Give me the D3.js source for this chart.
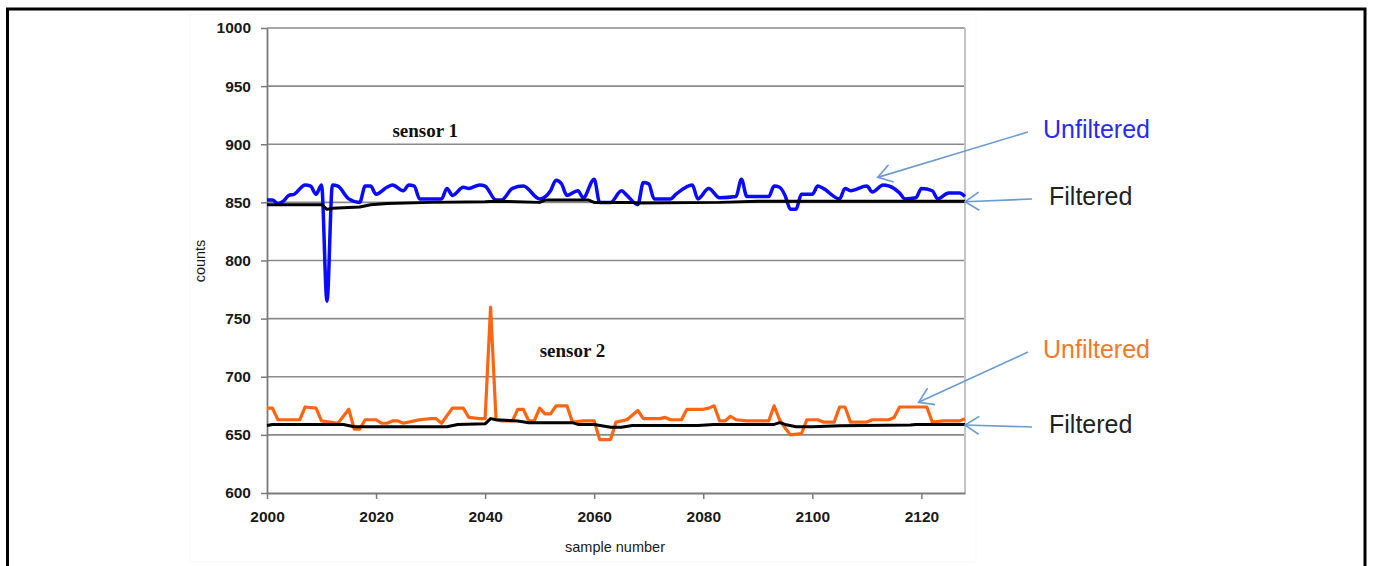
<!DOCTYPE html>
<html><head><meta charset="utf-8">
<script src="https://cdn.jsdelivr.net/npm/d3@7"></script>
<style>body{margin:0;background:#fff} svg{display:block}</style>
</head><body>
<svg id="c" width="1373" height="566"></svg>
<script>
// ---- data ----
const yTicks = [600, 650, 700, 750, 800, 850, 900, 950, 1000];
const xTicks = [2000, 2020, 2040, 2060, 2080, 2100, 2120];

const s1UnfSamples = [2000,2001,2002,2003,2004,2005,2007,2008,2009,2010,2011,2012,2013,2015,2017,2018,2019,2020,2022,2023,2025,2026,2027,2028,2032,2033,2034,2036,2037,2039,2040,2042,2043,2045,2047,2050,2052,2053,2054,2055,2057,2058,2060,2061,2063,2065,2066,2068,2069,2070,2071,2074,2075,2078,2079,2081,2083,2086,2087,2088,2092,2093,2094,2095,2096,2097,2098,2100,2101,2102,2105,2106,2107,2110,2111,2113,2115,2116,2117,2119,2120,2122,2123,2125,2127,2128];
const s1Unfiltered = [852,852,849,851,856,857,865,864,857,865,765,865,864,853,850,864,864,857,863,865,860,865,864,853,853,862,856,863,862,865,864,852,852,862,864,853,860,869,866,856,860,854,870,850,850,860,856,848,867,866,853,853,857,865,853,862,854,855,870,855,855,864,863,856,844,844,857,857,864,862,853,862,860,864,859,865,862,858,853,854,862,860,853,858,858,855];

const s1FiltSamples = [2000,2010,2011,2012,2017,2019,2022,2030,2040,2042,2050,2051,2059,2060,2067,2068,2083,2090,2128];
const s1Filtered = [848,848,844,845,846,848,849,850,850.5,851,850,852,852,850,850,849.5,850,851,851];

const s2UnfSamples = [2000,2001,2002,2006,2007,2009,2010,2013,2015,2016,2017,2018,2020,2021,2022,2023,2024,2025,2027,2028,2030,2031,2032,2034,2036,2037,2039,2040,2041,2042,2043,2045,2046,2047,2048,2049,2050,2051,2052,2053,2055,2056,2058,2060,2061,2063,2064,2066,2068,2069,2072,2073,2074,2076,2077,2080,2081,2082,2083,2084,2085,2086,2088,2092,2093,2094,2095,2096,2098,2099,2101,2102,2104,2105,2106,2107,2110,2111,2114,2115,2116,2121,2122,2124,2127,2128];
const s2Unfiltered = [673,673,663,663,674,673,662,660,672,655,655,663,663,660,660,662,662,660,662,663,664,664,660,673,673,665,664,664,760,663,662,662,672,672,662,662,673,668,668,675,675,661,662,662,646,646,661,663,671,664,664,665,663,663,672,672,673,675,662,662,666,663,662,662,675,663,656,650,651,663,663,661,661,674,674,661,661,663,663,665,674,674,661,662,662,664];

const s2FiltSamples = [2000,2001,2014,2016,2033,2035,2040,2041,2042,2046,2048,2056,2057,2060,2063,2065,2067,2079,2082,2093,2094,2095,2097,2100,2105,2118,2119,2128];
const s2Filtered = [658,659,659,657,657,659,659.5,664,663,662,660.5,660.5,659,659,656.5,656.5,658,658,659,659,660.5,659,657,657,657.8,658.4,659,659];

const seriesLabels = ["sensor 1", "sensor 2"];
const annotationTexts = ["Unfiltered", "Filtered"];

// ---- layout ----
const svg = d3.select("#c");
const x = d3.scaleLinear().domain([2000, 2128]).range([267, 965]);
const y = d3.scaleLinear().domain([600, 1000]).range([493, 28]);

// outer frame
svg.append("rect").attr("x", 7.5).attr("y", 9).attr("width", 1357.5).attr("height", 600)
  .attr("fill", "none").attr("stroke", "#000").attr("stroke-width", 3);
// faint chart area
svg.append("rect").attr("x", 190).attr("y", 15).attr("width", 786).attr("height", 547)
  .attr("fill", "none").attr("stroke", "#f7f7f7").attr("stroke-width", 1);

// gridlines
svg.append("g").selectAll("line").data(yTicks.slice(1)).join("line")
  .attr("x1", x(2000)).attr("x2", x(2128))
  .attr("y1", d => y(d)).attr("y2", d => y(d))
  .attr("stroke", "#8a8a8a").attr("stroke-width", 1.7);
// right border
svg.append("line").attr("x1", x(2128)).attr("x2", x(2128)).attr("y1", y(1000)).attr("y2", y(600))
  .attr("stroke", "#c4c4c4").attr("stroke-width", 2);

// axes
const yAxis = svg.append("g").attr("transform", `translate(${x(2000)},0)`)
  .call(d3.axisLeft(y).tickValues(yTicks).tickFormat(d3.format("d")).tickSize(6).tickPadding(10).tickSizeOuter(0));
const xAxis = svg.append("g").attr("transform", `translate(0,${y(600)})`)
  .call(d3.axisBottom(x).tickValues(xTicks).tickSize(6).tickPadding(12).tickFormat(d3.format("d")).tickSizeOuter(0));
[yAxis, xAxis].forEach(a => {
  a.select(".domain").attr("stroke", "#7a7a7a").attr("stroke-width", 1.8);
  a.selectAll(".tick line").attr("stroke", "#7a7a7a").attr("stroke-width", 1.5);
  a.selectAll("text").attr("font-family", "Liberation Sans, Arial, sans-serif")
    .attr("font-size", 15.5).attr("font-weight", "bold").attr("fill", "#1a1a1a");
});

// axis titles
svg.append("text").attr("x", 615).attr("y", 552).attr("text-anchor", "middle")
  .attr("font-family", "Liberation Sans, Arial, sans-serif").attr("font-size", 14.5).attr("fill", "#1a1a1a")
  .text("sample number");
svg.append("text").attr("transform", "translate(205,261) rotate(-90)").attr("text-anchor", "middle")
  .attr("font-family", "Liberation Sans, Arial, sans-serif").attr("font-size", 14.5).attr("fill", "#1a1a1a")
  .text("counts");

// lines
const mk = (xs, ys) => xs.map((s, i) => [s, ys[i]]);
const smooth = d3.line().x(d => x(d[0])).y(d => y(d[1])).curve(d3.curveMonotoneX);
const straight = d3.line().x(d => x(d[0])).y(d => y(d[1]));

svg.append("path").attr("d", smooth(mk(s1UnfSamples, s1Unfiltered)))
  .attr("fill", "none").attr("stroke", "#0a0aff").attr("stroke-width", 3.5).attr("stroke-linejoin", "round");
svg.append("path").attr("d", straight(mk(s2UnfSamples, s2Unfiltered)))
  .attr("fill", "none").attr("stroke", "#ff6410").attr("stroke-width", 3.2).attr("stroke-linejoin", "round");
svg.append("path").attr("d", straight(mk(s1FiltSamples, s1Filtered)))
  .attr("fill", "none").attr("stroke", "#000").attr("stroke-width", 3).attr("stroke-linejoin", "round");
svg.append("path").attr("d", straight(mk(s2FiltSamples, s2Filtered)))
  .attr("fill", "none").attr("stroke", "#000").attr("stroke-width", 3).attr("stroke-linejoin", "round");

// sensor labels
svg.append("text").attr("x", x(2023)).attr("y", y(906)).attr("font-family", "Liberation Serif, Times New Roman, serif")
  .attr("font-size", 19).attr("font-weight", "bold").attr("fill", "#111").text(seriesLabels[0]);
svg.append("text").attr("x", x(2050)).attr("y", y(717)).attr("font-family", "Liberation Serif, Times New Roman, serif")
  .attr("font-size", 19).attr("font-weight", "bold").attr("fill", "#111").text(seriesLabels[1]);

// annotation arrows
const defs = svg.append("defs");
defs.append("marker").attr("id", "ah").attr("markerUnits", "userSpaceOnUse")
  .attr("viewBox", "-16 -10 18 20").attr("refX", 0).attr("refY", 0)
  .attr("markerWidth", 18).attr("markerHeight", 20).attr("orient", "auto")
  .append("path").attr("d", "M-14,-9 L0,0 L-14,9").attr("fill", "none")
  .attr("stroke", "#6a9bd6").attr("stroke-width", 1.6);

const arrows = [
  {x1: 1028, y1: 132, tx: 2112, ty: 871.5},
  {x1: 1032, y1: 199, tx: 2128, ty: 850.5},
  {x1: 1028, y1: 352, tx: 2119.5, ty: 678},
  {x1: 1032, y1: 427, tx: 2128, ty: 658.5}
];
svg.append("g").selectAll("line").data(arrows).join("line")
  .attr("x1", d => d.x1).attr("y1", d => d.y1)
  .attr("x2", d => x(d.tx)).attr("y2", d => y(d.ty))
  .attr("stroke", "#6a9bd6").attr("stroke-width", 1.6).attr("marker-end", "url(#ah)");

const notes = [
  {t: annotationTexts[0], x: 1043, y: 138, c: "#2a2af0"},
  {t: annotationTexts[1], x: 1049, y: 205, c: "#222"},
  {t: annotationTexts[0], x: 1043, y: 358, c: "#f07a2a"},
  {t: annotationTexts[1], x: 1049, y: 433, c: "#222"}
];
svg.append("g").selectAll("text").data(notes).join("text")
  .attr("x", d => d.x).attr("y", d => d.y).attr("fill", d => d.c)
  .attr("font-family", "Liberation Sans, Arial, sans-serif").attr("font-size", 25)
  .text(d => d.t);
</script>
</body></html>
